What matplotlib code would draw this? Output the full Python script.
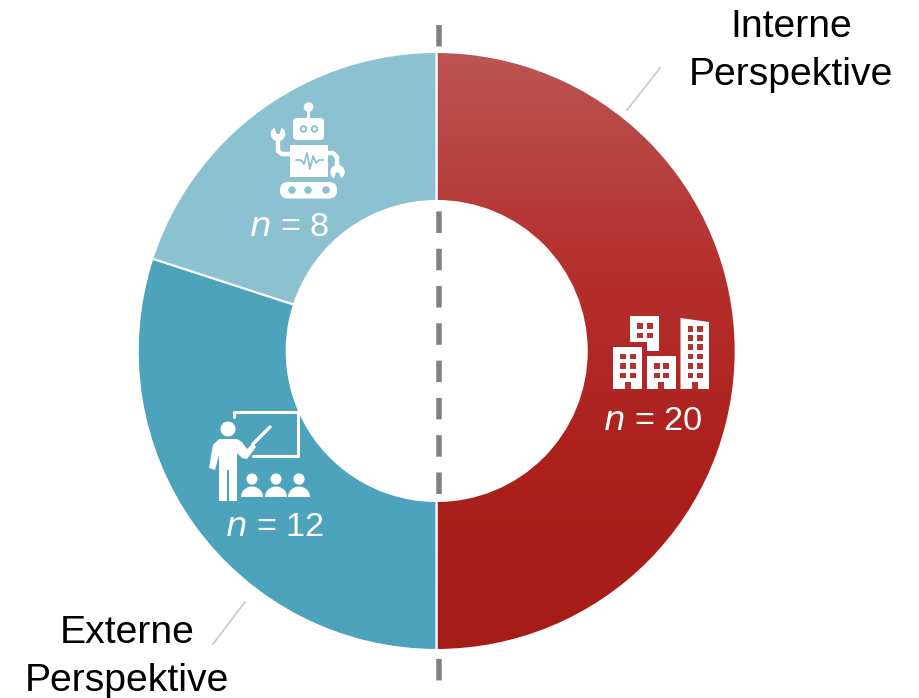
import matplotlib
matplotlib.use("Agg")
import matplotlib.pyplot as plt
import numpy as np
from matplotlib.colors import LinearSegmentedColormap
from matplotlib.patches import Circle, Ellipse, Polygon, Rectangle, FancyBboxPatch

plt.rcParams["font.family"] = ["Liberation Sans", "DejaVu Sans"]

ANCHO, ALTO = 919, 698
CENTRO = (436.7, ALTO - 351)
RADIO = 299
RADIO_INT = 150

valores = [20, 12, 8]
etiquetas_n = ["20", "12", "8"]
colores = ["#b02a27", "#4ca3bb", "#8cc1d2"]
textos = ["Interne", "Perspektive", "Externe", "Perspektive"]


def Y(y):
    # coordenadas medidas desde arriba, como en un lienzo
    return ALTO - y


def rect(ax, x0, y0, x1, y1, color="white", z=5):
    ax.add_patch(Rectangle((x0, Y(y1)), x1 - x0, y1 - y0, fc=color, ec="none", zorder=z))


def circ(ax, x, y, r, color="white", z=5):
    ax.add_patch(Circle((x, Y(y)), r, fc=color, ec="none", zorder=z))


def poli(ax, puntos, color="white", z=5):
    ax.add_patch(Polygon([(x, Y(y)) for x, y in puntos], closed=True, fc=color, ec="none", zorder=z))


def linea(ax, xs, ys, lw, color="white", z=5):
    ax.plot(xs, [Y(y) for y in ys], color=color, lw=lw, solid_capstyle="round",
            solid_joinstyle="round", zorder=z)


def redondeado(ax, x0, y0, x1, y1, r, color="white", z=5):
    ax.add_patch(FancyBboxPatch((x0 + r, Y(y1) + r), x1 - x0 - 2 * r, y1 - y0 - 2 * r,
                                boxstyle=f"round,pad={r},rounding_size={r}",
                                fc=color, ec="none", zorder=z))


def icono_robot(ax, fondo):
    circ(ax, 308.5, 107, 4.8)
    rect(ax, 307, 108, 310, 118)
    redondeado(ax, 293, 118, 324, 140, 4)
    for cx in (303.5, 314.5):
        circ(ax, cx, 129, 3.8, fondo, 6)
        circ(ax, cx, 129, 1.8, "white", 7)
    rect(ax, 290, 145, 328, 177)
    linea(ax, [296, 301, 304, 307, 310, 313, 316, 319, 323],
          [160, 160, 164, 153, 169, 156, 163, 160, 160], 1.3, fondo, 6)
    # brazos con pinza
    linea(ax, [278, 278, 282, 290], [136, 151, 154, 154], 3.2)
    circ(ax, 278, 134, 7.2)
    poli(ax, [(273.5, 125), (282.5, 125), (279.5, 134), (276.5, 134)], fondo, 6)
    linea(ax, [328, 333, 337, 337], [153, 153, 157, 172], 3.2)
    circ(ax, 337.5, 172, 7.2)
    poli(ax, [(333, 181), (342, 181), (339, 172.5), (336, 172.5)], fondo, 6)
    # orugas
    redondeado(ax, 280, 182, 337, 198.5, 8)
    for cx in (292, 308, 326):
        circ(ax, cx, 190, 3.8, fondo, 6)


def icono_edificios(ax):
    fondo = "#b3322f"

    def ventanas(xs, ys):
        for x in xs:
            for y in ys:
                rect(ax, x, y, x + 5.5, y + 5.5, fondo, 6)

    # edificio superior
    poli(ax, [(630, 316), (659, 316), (659, 351), (647, 351), (647, 342), (630, 342)])
    ventanas((637, 647), (323, 332.5))
    # izquierdo
    rect(ax, 613, 347, 642, 389)
    ventanas((620, 630), (353.5, 363, 372.5))
    rect(ax, 625, 382, 631, 389, fondo, 6)
    # central
    rect(ax, 647, 356, 676, 389)
    ventanas((654, 663), (363, 372.5))
    rect(ax, 658, 382, 664, 389, fondo, 6)
    # derecho, con techo inclinado
    poli(ax, [(680.5, 318), (709, 322), (709, 389), (680.5, 389)])
    ventanas((687.5, 697), (326, 335, 344, 353.5, 363, 372.5))
    rect(ax, 692, 382, 698, 389, fondo, 6)


def icono_docente(ax):
    # pizarra
    linea(ax, [234, 234, 298, 298, 253], [417, 412, 412, 456, 456], 2.2)
    # persona
    circ(ax, 228, 429, 7.5)
    poli(ax, [(219, 439), (237, 439), (242, 442), (247, 449), (253, 443), (256, 447), (247, 459),
              (242, 458), (237, 453), (237, 501), (229, 501), (229, 470), (227, 470), (227, 501),
              (219, 501), (219, 455), (215, 470), (209, 468), (213, 445)])
    linea(ax, [253, 270], [444, 427], 2.4)
    # alumnos
    for cx in (252, 276, 299):
        circ(ax, cx, 479, 5.6)
        ax.add_patch(Ellipse((cx, Y(497)), 22, 21, fc="white", ec="none", zorder=5))
        rect(ax, cx - 12, 497, cx + 12, 509, colores[1], 5.5)


fig, ax = plt.subplots(figsize=(ANCHO / 100, ALTO / 100), dpi=100)
ax.set_position([0, 0, 1, 1])

# eje vertical discontinuo que separa ambas perspectivas
ax.plot([439.2, 439.2], [Y(25), Y(681)], color="#808080", lw=3.96, dashes=(3.91, 2.87),
        dash_capstyle="butt", zorder=1)

wedges, _ = ax.pie(valores, colors=colores, startangle=90, counterclock=False, center=CENTRO,
                   radius=RADIO, frame=True, wedgeprops=dict(width=RADIO - RADIO_INT, edgecolor="white",
                                                            linewidth=1.5, zorder=2))

# degradado vertical de la mitad roja, recortado a su cuna
mapa = LinearSegmentedColormap.from_list("rojo", ["#bb5554", "#b5322f", "#ad211d", "#a51b17"])
img = ax.imshow(np.linspace(0, 1, 256).reshape(-1, 1), cmap=mapa, aspect="auto", origin="upper",
                extent=(CENTRO[0], CENTRO[0] + RADIO, CENTRO[1] - RADIO, CENTRO[1] + RADIO), zorder=2.5)
img.set_clip_path(wedges[0])
wedges[0].set_facecolor("none")
wedges[0].set_zorder(3)

ax.set_xlim(0, ANCHO)
ax.set_ylim(0, ALTO)
ax.axis("off")

icono_robot(ax, colores[2])
icono_edificios(ax)
icono_docente(ax)

for (x, y), n in zip([(653, 430), (275, 536), (289, 236)], etiquetas_n):
    ax.text(x, Y(y), rf"$\mathit{{n}}$ = {n}", color="white", fontsize=24.7, ha="center", va="baseline",
            math_fontfamily="custom", zorder=6)

for (x, y), txt in zip([(791, 37), (791, 85), (127, 643), (127, 691)], textos):
    ax.text(x, Y(y), txt, color="black", fontsize=28.2, ha="center", va="baseline")

ax.plot([660, 627], [Y(68), Y(110)], color="#c8c8c8", lw=1.2)
ax.plot([245, 213], [Y(602), Y(644)], color="#c8c8c8", lw=1.2)

fig.savefig("out.png", dpi=100)
